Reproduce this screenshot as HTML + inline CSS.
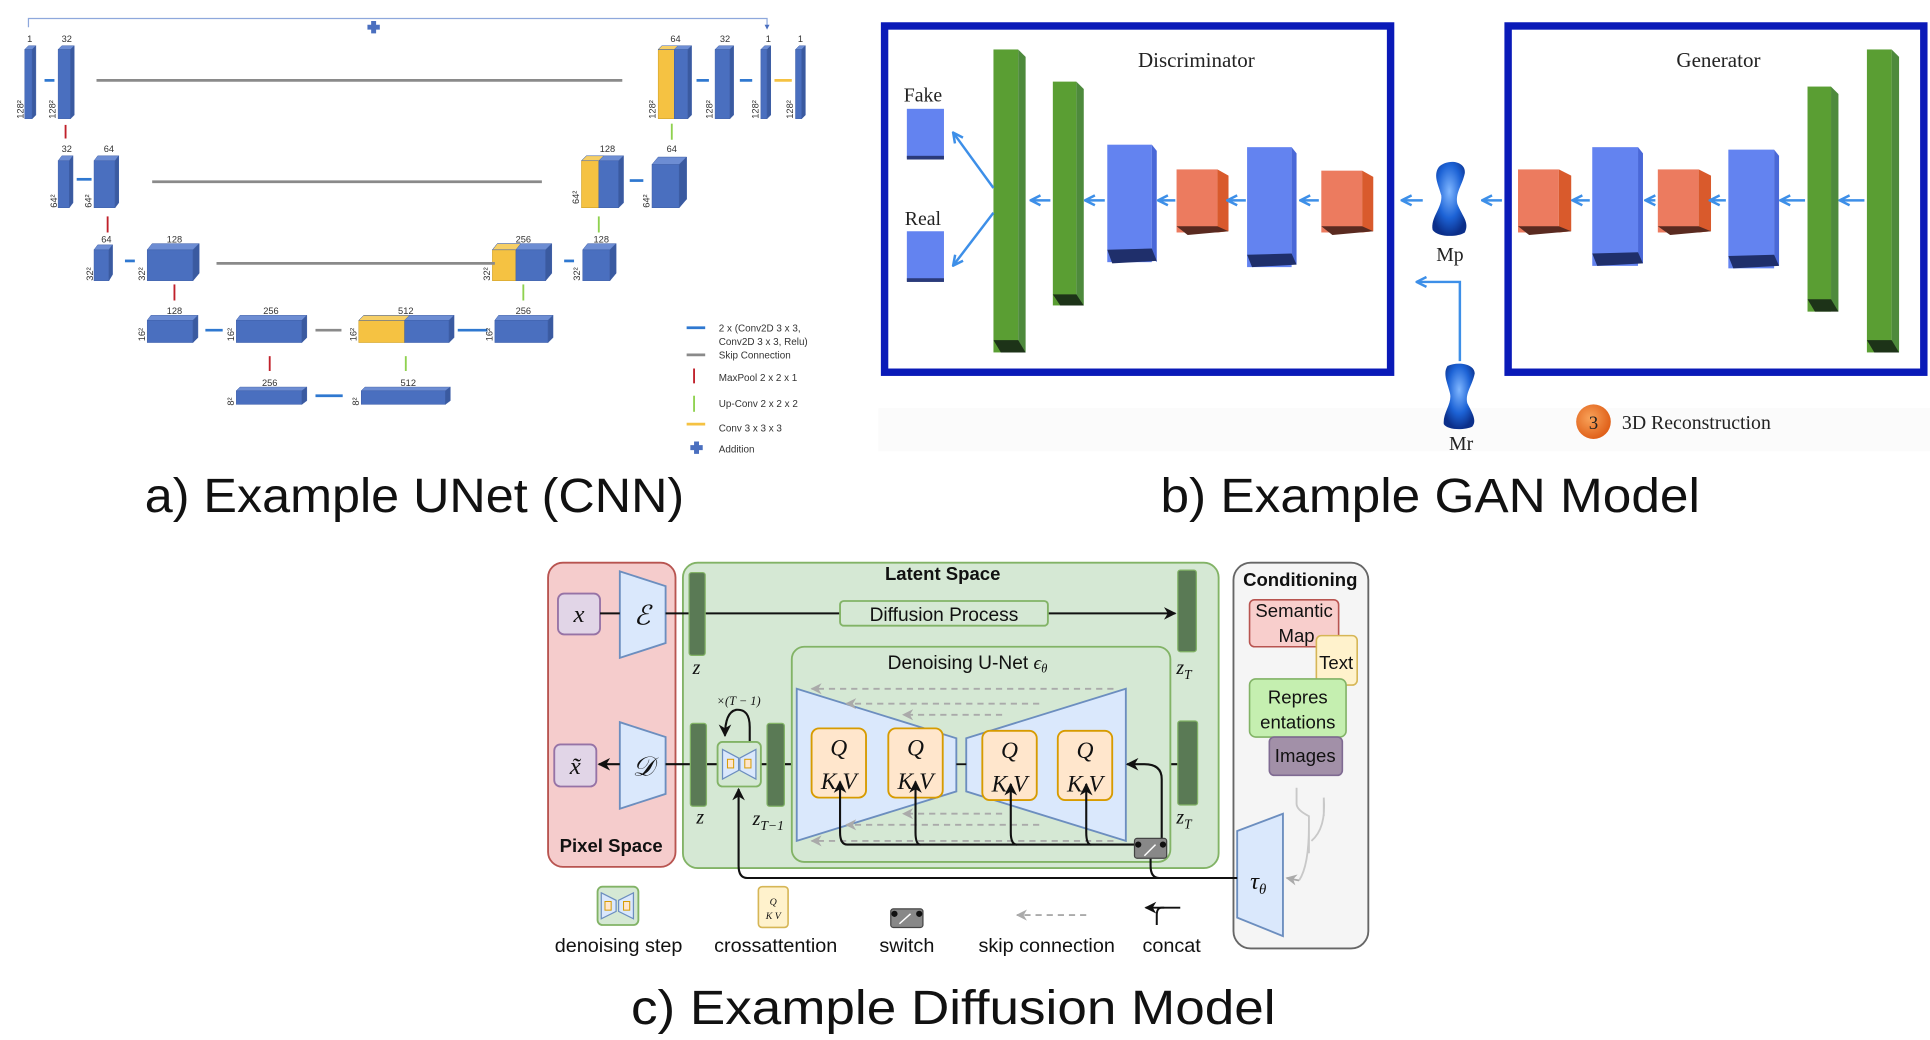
<!DOCTYPE html>
<html><head><meta charset="utf-8"><style>
html,body{margin:0;padding:0;background:#fff;width:1930px;height:1040px;overflow:hidden}
svg{display:block}
.cap{font-family:"Liberation Sans",sans-serif;font-size:39px;fill:#111}
.u{font-family:"Liberation Sans Narrow","Liberation Sans",sans-serif;font-size:7.5px;fill:#333}
.s{font-family:"Liberation Serif",serif;fill:#222}
.d{font-family:"Liberation Sans",sans-serif;fill:#111}
.m{font-family:"Liberation Serif",serif;font-style:italic;fill:#111}
</style></head><body>
<svg width="1930" height="1040" viewBox="0 0 1560 841" preserveAspectRatio="none" xmlns="http://www.w3.org/2000/svg">
<defs>
<marker id="ab" viewBox="0 0 10 10" refX="9" refY="5" markerWidth="6" markerHeight="6" orient="auto-start-reverse"><path d="M0,0 L10,5 L0,10 L3,5z" fill="#111"/></marker>
<marker id="ag" viewBox="0 0 10 10" refX="9" refY="5" markerWidth="6" markerHeight="6" orient="auto"><path d="M0,0 L10,5 L0,10 L3,5z" fill="#aaa"/></marker>
<marker id="abl" viewBox="0 0 10 10" refX="8" refY="5" markerWidth="5" markerHeight="5" orient="auto"><path d="M1,1 L9,5 L1,9" fill="none" stroke="#3d8fe8" stroke-width="2"/></marker>
<radialGradient id="blob" cx="50%" cy="40%" r="60%"><stop offset="0" stop-color="#7fb6ff"/><stop offset="0.6" stop-color="#1d63d6"/><stop offset="1" stop-color="#0b2f8a"/></radialGradient>
<radialGradient id="org" cx="40%" cy="40%" r="60%"><stop offset="0" stop-color="#f9a35a"/><stop offset="1" stop-color="#e0611a"/></radialGradient>
</defs>

<!-- ================= a) UNet ================= -->
<g>
<path d="M23,22 V15 H620 V22" fill="none" stroke="#8ea8dc" stroke-width="1"/>
<path d="M618,20 L620,24 L622,20z" fill="#4a6fbf"/>
<path d="M300,17 h4 v3 h3 v4 h-3 v3 h-4 v-3 h-3 v-4 h3z" fill="#4a6fbf"/>
<g fill="#4a6fbf" stroke="#3f5fa8" stroke-width="0.4">
<!-- row1 -->
<rect x="20" y="40" width="6" height="56"/><polygon points="20,40 23,37 29,37 26,40" fill="#6d8dd3"/><polygon points="26,40 29,37 29,93 26,96" fill="#3a5aa0"/>
<rect x="47" y="40" width="10" height="56"/><polygon points="47,40 50,37 60,37 57,40" fill="#6d8dd3"/><polygon points="57,40 60,37 60,93 57,96" fill="#3a5aa0"/>
<rect x="532" y="40" width="13" height="56" fill="#f5c242" stroke="#c89a20"/><rect x="545" y="40" width="11" height="56"/><polygon points="532,40 535,37 559,37 556,40" fill="#6d8dd3"/><polygon points="532,40 535,37 548,37 545,40" fill="#f6cf66"/><polygon points="556,40 559,37 559,93 556,96" fill="#3a5aa0"/>
<rect x="578" y="40" width="12" height="56"/><polygon points="578,40 581,37 593,37 590,40" fill="#6d8dd3"/><polygon points="590,40 593,37 593,93 590,96" fill="#3a5aa0"/>
<rect x="615" y="40" width="5" height="56"/><polygon points="615,40 618,37 623,37 620,40" fill="#6d8dd3"/><polygon points="620,40 623,37 623,93 620,96" fill="#3a5aa0"/>
<rect x="643" y="40" width="5" height="56"/><polygon points="643,40 646,37 651,37 648,40" fill="#6d8dd3"/><polygon points="648,40 651,37 651,93 648,96" fill="#3a5aa0"/>
<!-- row2 -->
<rect x="47" y="130" width="9" height="38"/><polygon points="47,130 50,126 59,126 56,130" fill="#6d8dd3"/><polygon points="56,130 59,126 59,164 56,168" fill="#3a5aa0"/>
<rect x="76" y="130" width="17" height="38"/><polygon points="76,130 79,126 96,126 93,130" fill="#6d8dd3"/><polygon points="93,130 96,126 96,164 93,168" fill="#3a5aa0"/>
<rect x="470" y="130" width="14" height="38" fill="#f5c242" stroke="#c89a20"/><rect x="484" y="130" width="16" height="38"/><polygon points="470,130 474,126 504,126 500,130" fill="#6d8dd3"/><polygon points="470,130 474,126 488,126 484,130" fill="#f6cf66"/><polygon points="500,130 504,126 504,164 500,168" fill="#3a5aa0"/>
<rect x="527" y="133" width="22" height="35"/><polygon points="527,133 532,127 555,127 549,133" fill="#6d8dd3"/><polygon points="549,133 555,127 555,161 549,168" fill="#3a5aa0"/>
<!-- row3 -->
<rect x="76" y="202" width="12" height="25"/><polygon points="76,202 79,198 91,198 88,202" fill="#6d8dd3"/><polygon points="88,202 91,198 91,222 88,227" fill="#3a5aa0"/>
<rect x="119" y="202" width="37" height="25"/><polygon points="119,202 123,197 161,197 156,202" fill="#6d8dd3"/><polygon points="156,202 161,197 161,221 156,227" fill="#3a5aa0"/>
<rect x="398" y="202" width="19" height="25" fill="#f5c242" stroke="#c89a20"/><rect x="417" y="202" width="24" height="25"/><polygon points="398,202 402,197 446,197 441,202" fill="#6d8dd3"/><polygon points="398,202 402,197 421,197 417,202" fill="#f6cf66"/><polygon points="441,202 446,197 446,221 441,227" fill="#3a5aa0"/>
<rect x="471" y="202" width="22" height="25"/><polygon points="471,202 475,197 498,197 493,202" fill="#6d8dd3"/><polygon points="493,202 498,197 498,221 493,227" fill="#3a5aa0"/>
<!-- row4 -->
<rect x="119" y="259" width="37" height="18"/><polygon points="119,259 122,255 160,255 156,259" fill="#6d8dd3"/><polygon points="156,259 160,255 160,273 156,277" fill="#3a5aa0"/>
<rect x="191" y="259" width="53" height="18"/><polygon points="191,259 194,255 248,255 244,259" fill="#6d8dd3"/><polygon points="244,259 248,255 248,273 244,277" fill="#3a5aa0"/>
<rect x="290" y="259" width="37" height="18" fill="#f5c242" stroke="#c89a20"/><rect x="327" y="259" width="36" height="18"/><polygon points="290,259 294,255 367,255 363,259" fill="#6d8dd3"/><polygon points="290,259 294,255 331,255 327,259" fill="#f6cf66"/><polygon points="363,259 367,255 367,273 363,277" fill="#3a5aa0"/>
<rect x="400" y="259" width="43" height="18"/><polygon points="400,259 403,255 447,255 443,259" fill="#6d8dd3"/><polygon points="443,259 447,255 447,273 443,277" fill="#3a5aa0"/>
<!-- row5 -->
<rect x="191" y="316" width="53" height="11"/><polygon points="191,316 194,313 248,313 244,316" fill="#6d8dd3"/><polygon points="244,316 248,313 248,324 244,327" fill="#3a5aa0"/>
<rect x="292" y="316" width="68" height="11"/><polygon points="292,316 295,313 364,313 360,316" fill="#6d8dd3"/><polygon points="360,316 364,313 364,324 360,327" fill="#3a5aa0"/>
</g>
<!-- skip lines -->
<g stroke="#8a8a8a" stroke-width="2.2">
<line x1="78" y1="65" x2="503" y2="65"/><line x1="123" y1="147" x2="438" y2="147"/><line x1="175" y1="213" x2="400" y2="213"/><line x1="255" y1="267" x2="276" y2="267"/>
</g>
<!-- blue arrows -->
<g stroke="#2f78d0" stroke-width="2.2">
<line x1="36" y1="65" x2="44" y2="65"/><line x1="563" y1="65" x2="573" y2="65"/><line x1="598" y1="65" x2="608" y2="65"/>
<line x1="79" y1="147" x2="91" y2="147" transform="translate(-17,-2)"/><line x1="509" y1="146" x2="520" y2="146"/>
<line x1="101" y1="211" x2="109" y2="211"/><line x1="456" y1="211" x2="464" y2="211"/>
<line x1="166" y1="267" x2="180" y2="267"/><line x1="370" y1="267" x2="394" y2="267"/>
<line x1="255" y1="320" x2="277" y2="320"/>
</g>
<line x1="626" y1="65" x2="640" y2="65" stroke="#f5c242" stroke-width="2.2"/>
<g stroke="#c0202a" stroke-width="1.5"><line x1="53" y1="101" x2="53" y2="112"/><line x1="87" y1="175" x2="87" y2="188"/><line x1="141" y1="230" x2="141" y2="243"/><line x1="218" y1="288" x2="218" y2="300"/></g>
<g stroke="#8fd14f" stroke-width="1.5"><line x1="543" y1="100" x2="543" y2="113"/><line x1="484" y1="175" x2="484" y2="188"/><line x1="423" y1="230" x2="423" y2="243"/><line x1="328" y1="288" x2="328" y2="300"/></g>
<!-- labels -->
<g class="u" text-anchor="middle">
<text x="24" y="34">1</text><text x="54" y="34">32</text><text x="546" y="34">64</text><text x="586" y="34">32</text><text x="621" y="34">1</text><text x="647" y="34">1</text>
<text x="54" y="123">32</text><text x="88" y="123">64</text><text x="491" y="123">128</text><text x="543" y="123">64</text>
<text x="86" y="196">64</text><text x="141" y="196">128</text><text x="423" y="196">256</text><text x="486" y="196">128</text>
<text x="141" y="254">128</text><text x="219" y="254">256</text><text x="328" y="254">512</text><text x="423" y="254">256</text>
<text x="218" y="312">256</text><text x="330" y="312">512</text>
</g>
<g class="u">
<text transform="translate(19,96) rotate(-90)">128²</text><text transform="translate(45,96) rotate(-90)">128²</text>
<text transform="translate(530,96) rotate(-90)">128²</text><text transform="translate(576,96) rotate(-90)">128²</text><text transform="translate(613,96) rotate(-90)">128²</text><text transform="translate(641,96) rotate(-90)">128²</text>
<text transform="translate(46,168) rotate(-90)">64²</text><text transform="translate(74,168) rotate(-90)">64²</text><text transform="translate(468,165) rotate(-90)">64²</text><text transform="translate(525,168) rotate(-90)">64²</text>
<text transform="translate(75,227) rotate(-90)">32²</text><text transform="translate(117,227) rotate(-90)">32²</text><text transform="translate(396,227) rotate(-90)">32²</text><text transform="translate(469,227) rotate(-90)">32²</text>
<text transform="translate(117,276) rotate(-90)">16²</text><text transform="translate(189,276) rotate(-90)">16²</text><text transform="translate(288,276) rotate(-90)">16²</text><text transform="translate(398,276) rotate(-90)">16²</text>
<text transform="translate(189,328) rotate(-90)">8²</text><text transform="translate(290,328) rotate(-90)">8²</text>
</g>
<!-- legend -->
<g stroke-width="2.2"><line x1="555" y1="265" x2="570" y2="265" stroke="#2f78d0"/><line x1="555" y1="287" x2="570" y2="287" stroke="#8a8a8a"/><line x1="561" y1="298" x2="561" y2="310" stroke="#c0202a" stroke-width="1.5"/><line x1="561" y1="320" x2="561" y2="333" stroke="#8fd14f" stroke-width="1.5"/><line x1="555" y1="343" x2="570" y2="343" stroke="#f5c242"/></g>
<path d="M561,357 h4 v3 h3 v4 h-3 v3 h-4 v-3 h-3 v-4 h3z" fill="#4a6fbf"/>
<g class="u" style="font-size:8px"><text x="581" y="268">2 x (Conv2D 3 x 3,</text><text x="581" y="279">Conv2D 3 x 3, Relu)</text><text x="581" y="290">Skip Connection</text><text x="581" y="308">MaxPool 2 x 2 x 1</text><text x="581" y="329">Up-Conv 2 x 2 x 2</text><text x="581" y="349">Conv 3 x 3 x 3</text><text x="581" y="366">Addition</text></g>
<text class="cap" x="117" y="414" textLength="436" lengthAdjust="spacingAndGlyphs">a) Example UNet (CNN)</text>
</g>

<!-- ================= b) GAN ================= -->
<g>
<rect x="710" y="330" width="850" height="35" fill="#fbfbfb"/>
<rect x="715" y="21" width="409" height="280" fill="none" stroke="#0a1ab8" stroke-width="6"/>
<rect x="1219" y="21" width="336" height="280" fill="none" stroke="#0a1ab8" stroke-width="6"/>
<text class="s" x="967" y="54" font-size="17" text-anchor="middle">Discriminator</text>
<text class="s" x="1389" y="54" font-size="17" text-anchor="middle">Generator</text>
<text class="s" x="746" y="82" font-size="16" text-anchor="middle">Fake</text>
<text class="s" x="746" y="182" font-size="16" text-anchor="middle">Real</text>
<!-- fake/real boxes -->
<rect x="733" y="88" width="30" height="40" fill="#6383f0"/><rect x="733" y="126" width="30" height="3" fill="#2a3a7a"/>
<rect x="733" y="187" width="30" height="40" fill="#6383f0"/><rect x="733" y="225" width="30" height="3" fill="#2a3a7a"/>
<g id="gb">
<!-- greens -->
<rect x="803" y="40" width="20" height="245" fill="#5a9e33"/><polygon points="823,40 829,46 829,285 823,279" fill="#4e8a3c"/><polygon points="803,275 823,275 829,285 809,285" fill="#1d3318"/>
<rect x="851" y="66" width="19" height="181" fill="#5a9e33"/><polygon points="870,66 876,72 876,247 870,241" fill="#4e8a3c"/><polygon points="851,238 870,238 876,247 857,247" fill="#1d3318"/>
<rect x="1509" y="40" width="20" height="245" fill="#5a9e33"/><polygon points="1529,40 1535,46 1535,285 1529,279" fill="#4e8a3c"/><polygon points="1509,275 1529,275 1535,285 1515,285" fill="#1d3318"/>
<rect x="1461" y="70" width="19" height="182" fill="#5a9e33"/><polygon points="1480,70 1486,76 1486,252 1480,246" fill="#4e8a3c"/><polygon points="1461,242 1480,242 1486,252 1467,252" fill="#1d3318"/>
</g>
<!-- blues -->
<g>
<rect x="895" y="117" width="36" height="95" fill="#6383f0"/><polygon points="931,117 935,122 935,212 931,208" fill="#4a68d8"/><polygon points="895,202 931,201 935,211 899,213" fill="#1f2f6b"/>
<rect x="1008" y="119" width="36" height="97" fill="#6383f0"/><polygon points="1044,119 1048,124 1048,214 1044,210" fill="#4a68d8"/><polygon points="1008,206 1044,205 1048,214 1012,216" fill="#1f2f6b"/>
<rect x="1287" y="119" width="37" height="96" fill="#6383f0"/><polygon points="1324,119 1328,124 1328,213 1324,209" fill="#4a68d8"/><polygon points="1287,205 1324,204 1328,213 1291,215" fill="#1f2f6b"/>
<rect x="1397" y="121" width="37" height="96" fill="#6383f0"/><polygon points="1434,121 1438,126 1438,215 1434,211" fill="#4a68d8"/><polygon points="1397,207 1434,206 1438,215 1401,217" fill="#1f2f6b"/>
</g>
<!-- oranges -->
<g>
<rect x="951" y="137" width="33" height="51" fill="#ec7b5f"/><polygon points="984,137 993,142 993,187 984,188" fill="#d95a2c"/><polygon points="951,183 984,183 993,187 960,190" fill="#5a2a20"/>
<rect x="1068" y="138" width="33" height="50" fill="#ec7b5f"/><polygon points="1101,138 1110,143 1110,187 1101,188" fill="#d95a2c"/><polygon points="1068,183 1101,183 1110,187 1077,190" fill="#5a2a20"/>
<rect x="1227" y="137" width="33" height="51" fill="#ec7b5f"/><polygon points="1260,137 1270,142 1270,187 1260,188" fill="#d95a2c"/><polygon points="1227,183 1260,183 1270,187 1236,190" fill="#5a2a20"/>
<rect x="1340" y="137" width="33" height="51" fill="#ec7b5f"/><polygon points="1373,137 1383,142 1383,187 1373,188" fill="#d95a2c"/><polygon points="1340,183 1373,183 1383,187 1350,190" fill="#5a2a20"/>
</g>
<!-- arrows -->
<g stroke="#3d8fe8" stroke-width="2" fill="none" marker-end="url(#abl)">
<line x1="803" y1="152" x2="771" y2="108"/><line x1="803" y1="172" x2="771" y2="214"/>
<line x1="849" y1="162" x2="834" y2="162"/><line x1="893" y1="162" x2="878" y2="162"/><line x1="950" y1="162" x2="937" y2="162"/><line x1="1007" y1="162" x2="993" y2="162"/><line x1="1066" y1="162" x2="1052" y2="162"/>
<line x1="1150" y1="162" x2="1134" y2="162"/><line x1="1214" y1="162" x2="1199" y2="162"/>
<line x1="1285" y1="162" x2="1272" y2="162"/><line x1="1338" y1="162" x2="1331" y2="162"/><line x1="1395" y1="162" x2="1383" y2="162"/><line x1="1459" y1="162" x2="1440" y2="162"/><line x1="1507" y1="162" x2="1488" y2="162"/>
<polyline points="1180,292 1180,228 1146,228"/>
</g>
<!-- Mp / Mr figures -->
<path d="M1163,135 C1170,128 1185,130 1184,140 C1182,150 1176,156 1178,165 C1182,175 1188,180 1184,188 C1178,192 1162,192 1158,186 C1156,176 1166,168 1165,158 C1163,150 1158,142 1163,135z" fill="url(#blob)"/>
<path d="M1170,296 C1178,292 1192,294 1192,302 C1190,312 1184,318 1186,326 C1190,334 1194,340 1190,345 C1184,348 1170,348 1167,343 C1166,334 1174,326 1172,318 C1170,310 1166,302 1170,296z" fill="url(#blob)"/>
<text class="s" x="1172" y="211" font-size="16" text-anchor="middle">Mp</text>
<text class="s" x="1181" y="364" font-size="16" text-anchor="middle">Mr</text>
<circle cx="1288" cy="341" r="14" fill="url(#org)"/>
<text class="s" x="1288" y="347" font-size="15" text-anchor="middle">3</text>
<text class="s" x="1311" y="347" font-size="16">3D Reconstruction</text>
<text class="cap" x="938" y="414" textLength="436" lengthAdjust="spacingAndGlyphs">b) Example GAN Model</text>
</g>

<!-- ================= c) Diffusion ================= -->
<g>
<rect x="443" y="455" width="103" height="246" rx="12" fill="#f5cccc" stroke="#b85450" stroke-width="1.5"/>
<rect x="552" y="455" width="433" height="247" rx="12" fill="#d5e8d4" stroke="#82b366" stroke-width="1.5"/>
<rect x="997" y="455" width="109" height="312" rx="14" fill="#f5f5f5" stroke="#666" stroke-width="1.5"/>
<text class="d" x="762" y="469" font-size="15" font-weight="bold" text-anchor="middle">Latent Space</text>
<text class="d" x="494" y="689" font-size="15" font-weight="bold" text-anchor="middle">Pixel Space</text>
<text class="d" x="1051" y="474" font-size="15" font-weight="bold" text-anchor="middle">Conditioning</text>
<!-- conditioning boxes -->
<rect x="1010" y="485" width="72" height="38" rx="4" fill="#f8cecc" stroke="#b85450" stroke-width="1.3"/>
<text class="d" x="1046" y="499" font-size="15" text-anchor="middle">Semantic</text><text class="d" x="1048" y="519" font-size="15" text-anchor="middle">Map</text>
<rect x="1064" y="514" width="33" height="40" rx="4" fill="#fff2cc" stroke="#d6b656" stroke-width="1.3"/>
<text class="d" x="1080" y="541" font-size="15" text-anchor="middle">Text</text>
<rect x="1010" y="549" width="78" height="47" rx="5" fill="#c5efb0" stroke="#82b366" stroke-width="1.3"/>
<text class="d" x="1049" y="569" font-size="15" text-anchor="middle">Repres</text><text class="d" x="1049" y="589" font-size="15" text-anchor="middle">entations</text>
<rect x="1026" y="596" width="59" height="31" rx="4" fill="#a290a8" stroke="#7f6a92" stroke-width="1.3"/>
<text class="d" x="1055" y="616" font-size="15" text-anchor="middle">Images</text>
<path d="M1048,637 V650 Q1048,655 1058,660 V690 M1070,645 V660 M1058,668 Q1058,700 1050,712 M1070,645 Q1072,670 1060,680" fill="none" stroke="#c8c8c8" stroke-width="1.5"/>
<path d="M1050,712 L1040,710" stroke="#aaa" stroke-width="1.5" marker-end="url(#ag)"/>
<!-- trapezoids -->
<g fill="#dae8fc" stroke="#6c8ebf" stroke-width="1.5">
<polygon points="501,462 538,474 538,520 501,532"/>
<polygon points="501,584 538,596 538,642 501,654"/>
<polygon points="1000,672 1037,658 1037,757 1000,742"/>
</g>
<text class="m" x="519" y="505" font-size="22" text-anchor="middle">ℰ</text>
<text class="m" x="520" y="627" font-size="22" text-anchor="middle">𝒟</text>
<text class="m" x="1017" y="719" font-size="20" text-anchor="middle">τ<tspan font-size="12" dy="4">θ</tspan></text>
<!-- x boxes -->
<rect x="451" y="480" width="34" height="33" rx="5" fill="#e1d5e7" stroke="#9673a6" stroke-width="1.5"/>
<text class="m" x="468" y="503" font-size="20" text-anchor="middle">x</text>
<rect x="448" y="602" width="34" height="34" rx="5" fill="#e1d5e7" stroke="#9673a6" stroke-width="1.5"/>
<text class="m" x="465" y="626" font-size="20" text-anchor="middle">x̃</text>
<!-- main lines -->
<g stroke="#111" stroke-width="1.7" fill="none">
<line x1="485" y1="496" x2="501" y2="496"/><line x1="538" y1="496" x2="679" y2="496"/><line x1="847" y1="496" x2="950" y2="496" marker-end="url(#ab)"/>
<line x1="501" y1="618" x2="484" y2="618" marker-end="url(#ab)"/><line x1="538" y1="618" x2="952" y2="618"/>
</g>
<rect x="679" y="486" width="168" height="20" rx="3" fill="#d5e8d4" stroke="#82b366" stroke-width="1.5"/>
<text class="d" x="763" y="502" font-size="15.5" text-anchor="middle">Diffusion Process</text>
<!-- latent bars -->
<g fill="#5a7a55" stroke="#82b366" stroke-width="1">
<rect x="557" y="463" width="13" height="67" rx="2"/><rect x="952" y="461" width="15" height="66" rx="2"/>
<rect x="558" y="585" width="13" height="67" rx="2"/><rect x="620" y="585" width="14" height="67" rx="2"/><rect x="952" y="583" width="16" height="68" rx="2"/>
</g>
<text class="m" x="563" y="545" font-size="16" text-anchor="middle">z</text>
<text class="m" x="957" y="545" font-size="16" text-anchor="middle">z<tspan font-size="11" dy="4">T</tspan></text>
<text class="m" x="566" y="666" font-size="16" text-anchor="middle">z</text>
<text class="m" x="957" y="666" font-size="16" text-anchor="middle">z<tspan font-size="11" dy="4">T</tspan></text>
<text class="m" x="621" y="667" font-size="16" text-anchor="middle">z<tspan font-size="11" dy="4">T−1</tspan></text>
<!-- UNet box -->
<rect x="640" y="523" width="306" height="174" rx="10" fill="#d5e8d4" stroke="#82b366" stroke-width="1.5"/>
<text class="d" x="782" y="541" font-size="15.5" text-anchor="middle">Denoising U-Net <tspan class="m">ϵ<tspan font-size="10" dy="3">θ</tspan></tspan></text>
<g fill="#dae8fc" stroke="#6c8ebf" stroke-width="1.5">
<polygon points="644,557 773,597 773,640 644,680"/>
<polygon points="781,597 910,557 910,680 781,640"/>
</g>
<line x1="773" y1="618" x2="781" y2="618" stroke="#111" stroke-width="1.5"/>
<!-- dashed skips -->
<g stroke="#aaa" stroke-width="1.5" stroke-dasharray="5,4" marker-end="url(#ag)">
<line x1="900" y1="557" x2="656" y2="557"/><line x1="840" y1="569" x2="684" y2="569"/><line x1="810" y1="578" x2="730" y2="578"/>
<line x1="810" y1="658" x2="730" y2="658"/><line x1="840" y1="667" x2="684" y2="667"/><line x1="900" y1="680" x2="656" y2="680"/>
</g>
<!-- QKV boxes -->
<g fill="#ffe6cc" stroke="#d79b00" stroke-width="1.5">
<rect x="656" y="589" width="44" height="56" rx="6"/><rect x="718" y="589" width="44" height="56" rx="6"/><rect x="794" y="591" width="44" height="56" rx="6"/><rect x="855" y="591" width="44" height="56" rx="6"/>
</g>
<g class="m" font-size="19" text-anchor="middle">
<text x="678" y="611">Q</text><text x="678" y="638">K V</text>
<text x="740" y="611">Q</text><text x="740" y="638">K V</text>
<text x="816" y="613">Q</text><text x="816" y="640">K V</text>
<text x="877" y="613">Q</text><text x="877" y="640">K V</text>
</g>
<!-- cross attention arrows -->
<g stroke="#111" stroke-width="1.7" fill="none">
<path d="M918,683 H685 Q679,683 679,673 V632" marker-end="url(#ab)"/>
<path d="M744,683 Q740,683 740,673 V632" marker-end="url(#ab)"/>
<path d="M822,683 Q817,683 817,673 V634" marker-end="url(#ab)"/>
<path d="M882,683 Q878,683 878,673 V634" marker-end="url(#ab)"/>
<path d="M939,683 V630 Q939,618 925,618 H911" marker-end="url(#ab)"/>
<path d="M1000,710 H937 Q930,710 930,700 V690"/>
<path d="M937,710 H604 Q597,710 597,700 V638" marker-end="url(#ab)"/>
<path d="M606,600 V588 Q606,573 595,574 Q586,576 586,595" marker-end="url(#ab)"/>
</g>
<text class="m" x="597" y="570" font-size="10" text-anchor="middle">×(T − 1)</text>
<!-- switch -->
<rect x="917" y="678" width="26" height="16" rx="2" fill="#888" stroke="#444" stroke-width="1"/>
<circle cx="920" cy="683" r="2.5" fill="#111"/><circle cx="940" cy="683" r="2.5" fill="#111"/>
<line x1="925" y1="692" x2="934" y2="683" stroke="#fff" stroke-width="1.2"/>
<!-- denoise step -->
<rect x="580" y="600" width="35" height="36" rx="4" fill="#d5e8d4" stroke="#82b366" stroke-width="1.5"/>
<g fill="#dae8fc" stroke="#6c8ebf" stroke-width="1"><polygon points="584,606 597,613 597,623 584,630"/><polygon points="598,613 611,606 611,630 598,623"/></g>
<rect x="588" y="614" width="5" height="7" fill="#ffe6cc" stroke="#d79b00" stroke-width="0.8"/><rect x="602" y="614" width="5" height="7" fill="#ffe6cc" stroke="#d79b00" stroke-width="0.8"/>
<!-- legend -->
<rect x="483" y="717" width="33" height="31" rx="4" fill="#d5e8d4" stroke="#82b366" stroke-width="1.5"/>
<g fill="#dae8fc" stroke="#6c8ebf" stroke-width="1"><polygon points="486,722 498,728 498,737 486,743"/><polygon points="500,728 512,722 512,743 500,737"/></g>
<rect x="489" y="729" width="5" height="7" fill="#ffe6cc" stroke="#d79b00" stroke-width="0.8"/><rect x="504" y="729" width="5" height="7" fill="#ffe6cc" stroke="#d79b00" stroke-width="0.8"/>
<rect x="613" y="717" width="24" height="33" rx="3" fill="#fff2cc" stroke="#d6b656" stroke-width="1.3"/>
<text class="m" x="625" y="732" font-size="8" text-anchor="middle">Q</text><text class="m" x="625" y="743" font-size="8" text-anchor="middle">K V</text>
<rect x="720" y="735" width="26" height="15" rx="2" fill="#888" stroke="#444" stroke-width="1"/>
<circle cx="723" cy="739" r="2.5" fill="#111"/><circle cx="743" cy="739" r="2.5" fill="#111"/>
<line x1="727" y1="747" x2="736" y2="739" stroke="#fff" stroke-width="1.2"/>
<line x1="878" y1="740" x2="822" y2="740" stroke="#aaa" stroke-width="1.5" stroke-dasharray="5,4" marker-end="url(#ag)"/>
<path d="M954,734 H939 Q935,734 935,740 V748" fill="none" stroke="#111" stroke-width="1.6"/>
<path d="M941,734 L926,734" stroke="#111" stroke-width="1.6" marker-end="url(#ab)"/>
<g class="d" font-size="16" text-anchor="middle">
<text x="500" y="770">denoising step</text><text x="627" y="770">crossattention</text><text x="733" y="770">switch</text><text x="846" y="770">skip connection</text><text x="947" y="770">concat</text>
</g>
<text class="cap" x="510" y="828" textLength="521" lengthAdjust="spacingAndGlyphs">c) Example Diffusion Model</text>
</g>
</svg>
</body></html>
